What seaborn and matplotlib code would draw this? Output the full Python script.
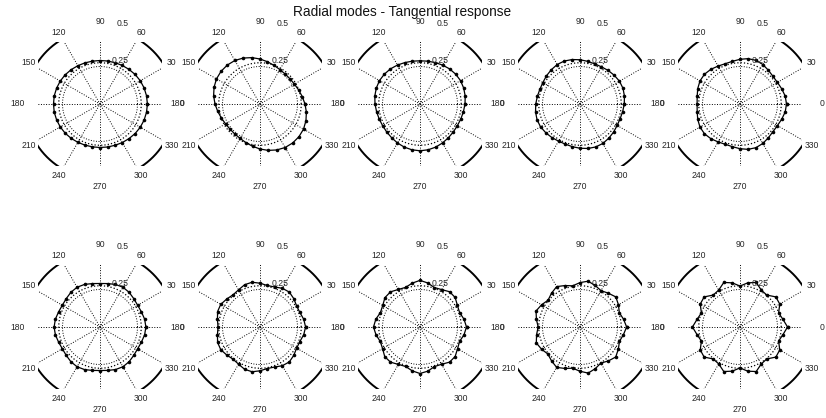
import numpy as np
import matplotlib
matplotlib.use("Agg")
import matplotlib.pyplot as plt
import seaborn as sns

sns.set_style("white")
plt.rcParams['font.family'] = ['Liberation Sans', 'DejaVu Sans']

angles = np.arange(0, 360, 10)
ring_ticks = [0.25, 0.5]
spoke_angles = list(range(0, 360, 30))
ref_radius = 0.275

r1 = [.316, .315, .313, .310, .306, .301, .297, .293, .291, .290, .290, .292,
      .295, .299, .303, .306, .308, .310, .310, .310, .308, .306, .303, .299,
      .295, .292, .290, .290, .291, .293, .297, .301, .306, .310, .313, .315]
r2 = [.300, .286, .274, .265, .261, .261, .265, .274, .286, .300, .314, .326,
      .335, .339, .339, .335, .326, .314, .300, .286, .274, .265, .261, .261,
      .265, .274, .286, .300, .314, .326, .335, .339, .339, .335, .326, .314]
r3 = [.300, .306, .310, .312, .310, .306, .300, .294, .290, .288, .290, .294,
      .300, .306, .310, .312, .310, .306, .300, .294, .290, .288, .290, .294,
      .300, .306, .310, .312, .310, .306, .300, .294, .290, .288, .290, .294]
r4 = [.295, .301, .305, .304, .298, .292, .286, .285, .289, .295, .301, .305,
      .304, .298, .292, .286, .285, .289, .295, .301, .305, .304, .298, .292,
      .286, .285, .289, .295, .301, .305, .304, .298, .292, .286, .285, .289]
r5 = [.310, .306, .296, .288, .287, .294, .304, .310, .307, .298, .289, .286,
      .292, .302, .309, .308, .300, .290, .286, .290, .300, .308, .309, .302,
      .292, .286, .289, .298, .307, .310, .304, .294, .287, .288, .296, .306]
r6 = [.306, .302, .294, .290, .294, .302, .306, .302, .294, .290, .294, .302,
      .306, .302, .294, .290, .294, .302, .306, .302, .294, .290, .294, .302,
      .306, .302, .294, .290, .294, .302, .306, .302, .294, .290, .294, .302]
r7 = [.304, .296, .283, .282, .294, .304, .298, .284, .281, .292, .303, .300,
      .286, .280, .290, .302, .301, .288, .280, .288, .301, .302, .290, .280,
      .286, .300, .303, .292, .281, .284, .298, .304, .294, .282, .283, .296]
r8 = [.310, .298, .281, .288, .306, .307, .288, .280, .298, .311, .297, .281,
      .289, .306, .305, .287, .281, .299, .310, .298, .282, .288, .307, .306,
      .288, .280, .297, .310, .299, .281, .287, .306, .306, .289, .281, .298]
r9 = [.311, .295, .279, .296, .312, .294, .280, .295, .310, .296, .279, .294,
      .311, .295, .278, .296, .312, .295, .279, .294, .310, .296, .280, .295,
      .311, .294, .279, .295, .312, .296, .278, .295, .311, .295, .280, .294]
r10 = [.317, .291, .274, .306, .312, .278, .284, .316, .299, .273, .299, .316,
       .284, .278, .312, .306, .274, .291, .317, .291, .274, .306, .312, .278,
       .284, .316, .299, .273, .299, .316, .284, .278, .312, .306, .274, .291]
modes = [r1, r2, r3, r4, r5, r6, r7, r8, r9, r10]

W, H = 826, 418
fig = plt.figure(figsize=(W / 100, H / 100), dpi=100)

col_x = [100, 260, 420, 580, 740]
row_y = [104, 327]
half = 62        # half box size in px
scale = 150      # px per unit radius
lim = half / scale
txt = '#262626'

t = np.linspace(0, 2 * np.pi, 361)
for i, rad in enumerate(modes):
    cx = col_x[i % 5]
    cy = row_y[i // 5]
    ax = fig.add_axes([(cx - half) / W, 1 - (cy + half) / H, 2 * half / W, 2 * half / H])
    ax.set_xlim(-lim, lim)
    ax.set_ylim(-lim, lim)
    ax.axis('off')

    # polar grid
    ax.plot(0.25 * np.cos(t), 0.25 * np.sin(t), ':', color='k', lw=0.7)
    ax.plot(0.5 * np.cos(t), 0.5 * np.sin(t), '-', color='k', lw=1.4)
    for a in range(0, 180, 30):
        c, s = np.cos(np.deg2rad(a)), np.sin(np.deg2rad(a))
        ax.plot([-0.5 * c, 0.5 * c], [-0.5 * s, 0.5 * s], ':', color='k', lw=0.7)
    for a in spoke_angles:
        c, s = np.cos(np.deg2rad(a)), np.sin(np.deg2rad(a))
        ax.text(0.55 * c, 0.55 * s, str(a), ha='center', va='center',
                fontsize=6.2, color=txt, clip_on=False)
    for rt in ring_ticks:
        ax.text((rt + 0.0125) * 0.139 + 0.042, (rt + 0.0125) * 0.99, str(rt),
                ha='left', va='bottom', fontsize=6.2, color=txt, clip_on=False)

    # undeformed reference
    ax.plot(ref_radius * np.cos(t), ref_radius * np.sin(t), ':', color='k', lw=0.9)

    # measured tangential response
    th = np.deg2rad(np.append(angles, angles[0]))
    rr = np.append(rad, rad[0])
    sns.lineplot(x=rr * np.cos(th), y=rr * np.sin(th), sort=False, estimator=None,
                 ax=ax, color='k', lw=0.9, marker='o', markersize=2.6,
                 markeredgewidth=0)

fig.text(402 / W, 1 - 12 / H, 'Radial modes - Tangential response',
         ha='center', va='center', fontsize=9.8, color='#111111')

fig.savefig('out.png', dpi=100)
